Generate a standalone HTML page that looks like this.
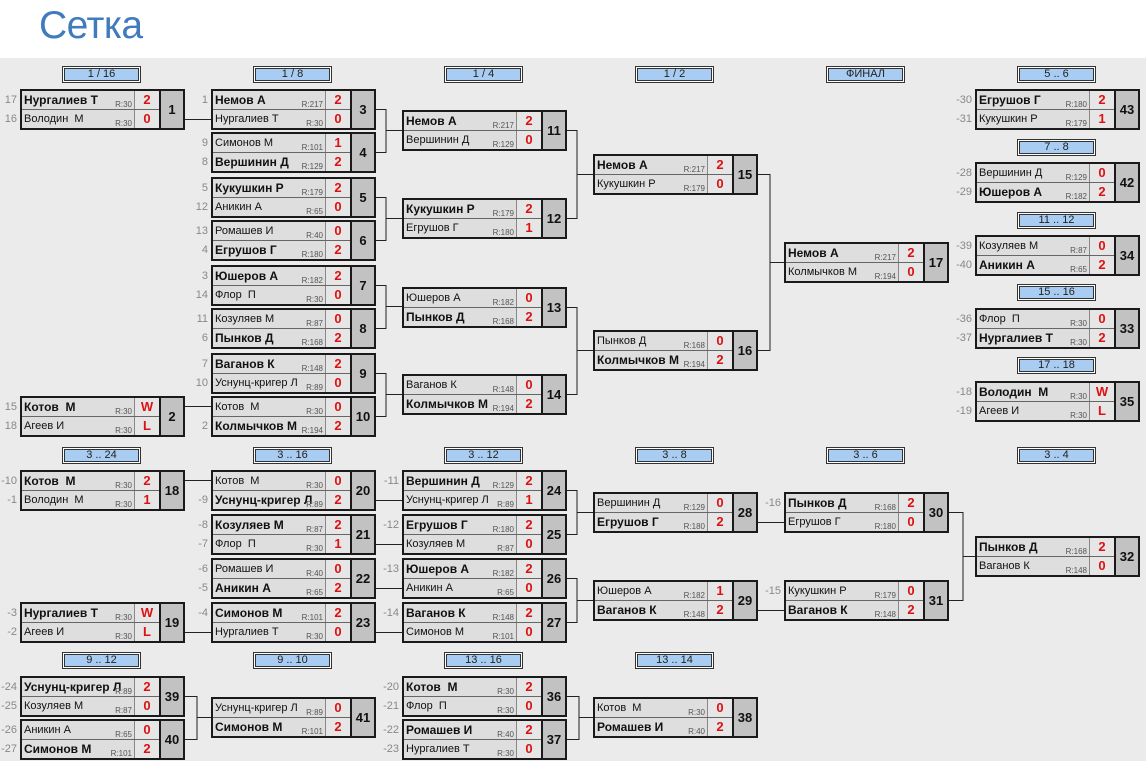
<!DOCTYPE html>
<html><head><meta charset="utf-8"><style>
body{margin:0;width:1146px;height:761px;overflow:hidden;background:#fff;font-family:"Liberation Sans",Tahoma,sans-serif;position:relative}
.bg{position:absolute;left:0;top:58px;width:1146px;height:703px;background:#ebebeb}
h1{position:absolute;left:39px;top:4px;margin:0;font-weight:normal;font-size:39px;color:#3f7bbd;font-family:"Liberation Sans",sans-serif;letter-spacing:-0.5px}
.h{position:absolute;width:77px;height:15px;border:1px solid #333;background:#a9cdf2;box-shadow:inset 0 0 0 1px #fff,inset 0 0 0 2px #333;font-size:11px;line-height:15px;text-align:center;color:#222}
.m{position:absolute;width:161px;height:37px;border:2px solid #1a1a1a;background:#c2c2c2}
.r{position:absolute;left:0;width:137px;height:18px}
.r1{top:0;border-bottom:1px solid #666}
.r2{top:19px}
.n{position:absolute;left:0;top:0;width:110px;height:18px;padding-left:2px;background:#dedede;font-size:11px;line-height:18px;white-space:pre;overflow:hidden;color:#111}
.b .n{font-weight:bold;font-size:12px}
.t{position:absolute;right:2px;bottom:0;font-size:8px;line-height:9px;color:#555;font-weight:normal;font-style:normal;background:transparent}
.s{position:absolute;left:112px;top:0;width:24px;height:18px;border-left:1px solid #888;background:#e6e6e6;color:#d11;font-weight:bold;font-size:13px;line-height:18px;text-align:center}
.u{position:absolute;left:137px;top:0;width:24px;height:37px;border-left:2px solid #1a1a1a;box-sizing:border-box;background:#c2c2c2;font-weight:bold;font-size:13px;line-height:37px;text-align:center;color:#111}
.sd{position:absolute;left:-24px;width:19px;text-align:right;font-size:11px;line-height:18px;color:#888}
svg{position:absolute;left:0;top:0}
</style></head><body>
<div class="bg"></div>
<h1>Сетка</h1>
<svg width="1146" height="761"><g stroke="#222" stroke-width="1" fill="none">
<path d="M185 119.5H211M185 406.5H211"/>
<path d="M376 109.5H386V152.5H376M386 130.5H402"/>
<path d="M376 197.5H386V240.5H376M386 218.5H402"/>
<path d="M376 285.5H386V328.5H376M386 306.5H402"/>
<path d="M376 373.5H386V416.5H376M386 394.5H402"/>
<path d="M567 130.5H577V218.5H567M577 174.5H593"/>
<path d="M567 307.5H577V394.5H567M577 350.5H593"/>
<path d="M758 174.5H770V350.5H758M770 262.5H784"/>
<path d="M185 480.5H211M185 632.5H211"/>
<path d="M376 500.5H402M376 544.5H402M376 588.5H402M376 632.5H402"/>
<path d="M567 490.5H577V534.5H567M577 512.5H593"/>
<path d="M567 578.5H577V622.5H567M577 600.5H593"/>
<path d="M758 522.5H784M758 610.5H784"/>
<path d="M949 512.5H963V600.5H949M963 556.5H975"/>
<path d="M185 696.5H197V739.5H185M197 717.5H211"/>
<path d="M567 696.5H579V739.5H567M579 717.5H593"/>
</g></svg>

<div class="h" style="left:62px;top:66px">1 / 16</div>
<div class="h" style="left:253px;top:66px">1 / 8</div>
<div class="h" style="left:444px;top:66px">1 / 4</div>
<div class="h" style="left:635px;top:66px">1 / 2</div>
<div class="h" style="left:826px;top:66px">ФИНАЛ</div>
<div class="h" style="left:1017px;top:66px">5 .. 6</div>
<div class="h" style="left:1017px;top:139px">7 .. 8</div>
<div class="h" style="left:1017px;top:212px">11 .. 12</div>
<div class="h" style="left:1017px;top:284px">15 .. 16</div>
<div class="h" style="left:1017px;top:357px">17 .. 18</div>
<div class="h" style="left:62px;top:447px">3 .. 24</div>
<div class="h" style="left:253px;top:447px">3 .. 16</div>
<div class="h" style="left:444px;top:447px">3 .. 12</div>
<div class="h" style="left:635px;top:447px">3 .. 8</div>
<div class="h" style="left:826px;top:447px">3 .. 6</div>
<div class="h" style="left:1017px;top:447px">3 .. 4</div>
<div class="h" style="left:62px;top:652px">9 .. 12</div>
<div class="h" style="left:253px;top:652px">9 .. 10</div>
<div class="h" style="left:444px;top:652px">13 .. 16</div>
<div class="h" style="left:635px;top:652px">13 .. 14</div>

<div class="m" style="left:20px;top:89px"><div class="r r1 b"><span class="sd">17</span><span class="n">Нургалиев Т<i class="t">R:30</i></span><span class="s">2</span></div><div class="r r2"><span class="sd">16</span><span class="n">Володин  М<i class="t">R:30</i></span><span class="s">0</span></div><div class="u">1</div></div>
<div class="m" style="left:20px;top:396px"><div class="r r1 b"><span class="sd">15</span><span class="n">Котов  М<i class="t">R:30</i></span><span class="s">W</span></div><div class="r r2"><span class="sd">18</span><span class="n">Агеев И<i class="t">R:30</i></span><span class="s">L</span></div><div class="u">2</div></div>

<div class="m" style="left:211px;top:89px"><div class="r r1 b"><span class="sd">1</span><span class="n">Немов А<i class="t">R:217</i></span><span class="s">2</span></div><div class="r r2"><span class="n">Нургалиев Т<i class="t">R:30</i></span><span class="s">0</span></div><div class="u">3</div></div>
<div class="m" style="left:211px;top:132px"><div class="r r1"><span class="sd">9</span><span class="n">Симонов М<i class="t">R:101</i></span><span class="s">1</span></div><div class="r r2 b"><span class="sd">8</span><span class="n">Вершинин Д<i class="t">R:129</i></span><span class="s">2</span></div><div class="u">4</div></div>
<div class="m" style="left:211px;top:177px"><div class="r r1 b"><span class="sd">5</span><span class="n">Кукушкин Р<i class="t">R:179</i></span><span class="s">2</span></div><div class="r r2"><span class="sd">12</span><span class="n">Аникин А<i class="t">R:65</i></span><span class="s">0</span></div><div class="u">5</div></div>
<div class="m" style="left:211px;top:220px"><div class="r r1"><span class="sd">13</span><span class="n">Ромашев И<i class="t">R:40</i></span><span class="s">0</span></div><div class="r r2 b"><span class="sd">4</span><span class="n">Егрушов Г<i class="t">R:180</i></span><span class="s">2</span></div><div class="u">6</div></div>
<div class="m" style="left:211px;top:265px"><div class="r r1 b"><span class="sd">3</span><span class="n">Юшеров А<i class="t">R:182</i></span><span class="s">2</span></div><div class="r r2"><span class="sd">14</span><span class="n">Флор  П<i class="t">R:30</i></span><span class="s">0</span></div><div class="u">7</div></div>
<div class="m" style="left:211px;top:308px"><div class="r r1"><span class="sd">11</span><span class="n">Козуляев М<i class="t">R:87</i></span><span class="s">0</span></div><div class="r r2 b"><span class="sd">6</span><span class="n">Пынков Д<i class="t">R:168</i></span><span class="s">2</span></div><div class="u">8</div></div>
<div class="m" style="left:211px;top:353px"><div class="r r1 b"><span class="sd">7</span><span class="n">Ваганов К<i class="t">R:148</i></span><span class="s">2</span></div><div class="r r2"><span class="sd">10</span><span class="n">Уснунц-кригер Л<i class="t">R:89</i></span><span class="s">0</span></div><div class="u">9</div></div>
<div class="m" style="left:211px;top:396px"><div class="r r1"><span class="n">Котов  М<i class="t">R:30</i></span><span class="s">0</span></div><div class="r r2 b"><span class="sd">2</span><span class="n">Колмычков М<i class="t">R:194</i></span><span class="s">2</span></div><div class="u">10</div></div>

<div class="m" style="left:402px;top:110px"><div class="r r1 b"><span class="n">Немов А<i class="t">R:217</i></span><span class="s">2</span></div><div class="r r2"><span class="n">Вершинин Д<i class="t">R:129</i></span><span class="s">0</span></div><div class="u">11</div></div>
<div class="m" style="left:402px;top:198px"><div class="r r1 b"><span class="n">Кукушкин Р<i class="t">R:179</i></span><span class="s">2</span></div><div class="r r2"><span class="n">Егрушов Г<i class="t">R:180</i></span><span class="s">1</span></div><div class="u">12</div></div>
<div class="m" style="left:402px;top:287px"><div class="r r1"><span class="n">Юшеров А<i class="t">R:182</i></span><span class="s">0</span></div><div class="r r2 b"><span class="n">Пынков Д<i class="t">R:168</i></span><span class="s">2</span></div><div class="u">13</div></div>
<div class="m" style="left:402px;top:374px"><div class="r r1"><span class="n">Ваганов К<i class="t">R:148</i></span><span class="s">0</span></div><div class="r r2 b"><span class="n">Колмычков М<i class="t">R:194</i></span><span class="s">2</span></div><div class="u">14</div></div>

<div class="m" style="left:593px;top:154px"><div class="r r1 b"><span class="n">Немов А<i class="t">R:217</i></span><span class="s">2</span></div><div class="r r2"><span class="n">Кукушкин Р<i class="t">R:179</i></span><span class="s">0</span></div><div class="u">15</div></div>
<div class="m" style="left:593px;top:330px"><div class="r r1"><span class="n">Пынков Д<i class="t">R:168</i></span><span class="s">0</span></div><div class="r r2 b"><span class="n">Колмычков М<i class="t">R:194</i></span><span class="s">2</span></div><div class="u">16</div></div>
<div class="m" style="left:784px;top:242px"><div class="r r1 b"><span class="n">Немов А<i class="t">R:217</i></span><span class="s">2</span></div><div class="r r2"><span class="n">Колмычков М<i class="t">R:194</i></span><span class="s">0</span></div><div class="u">17</div></div>

<div class="m" style="left:975px;top:89px"><div class="r r1 b"><span class="sd">-30</span><span class="n">Егрушов Г<i class="t">R:180</i></span><span class="s">2</span></div><div class="r r2"><span class="sd">-31</span><span class="n">Кукушкин Р<i class="t">R:179</i></span><span class="s">1</span></div><div class="u">43</div></div>
<div class="m" style="left:975px;top:162px"><div class="r r1"><span class="sd">-28</span><span class="n">Вершинин Д<i class="t">R:129</i></span><span class="s">0</span></div><div class="r r2 b"><span class="sd">-29</span><span class="n">Юшеров А<i class="t">R:182</i></span><span class="s">2</span></div><div class="u">42</div></div>
<div class="m" style="left:975px;top:235px"><div class="r r1"><span class="sd">-39</span><span class="n">Козуляев М<i class="t">R:87</i></span><span class="s">0</span></div><div class="r r2 b"><span class="sd">-40</span><span class="n">Аникин А<i class="t">R:65</i></span><span class="s">2</span></div><div class="u">34</div></div>
<div class="m" style="left:975px;top:308px"><div class="r r1"><span class="sd">-36</span><span class="n">Флор  П<i class="t">R:30</i></span><span class="s">0</span></div><div class="r r2 b"><span class="sd">-37</span><span class="n">Нургалиев Т<i class="t">R:30</i></span><span class="s">2</span></div><div class="u">33</div></div>
<div class="m" style="left:975px;top:381px"><div class="r r1 b"><span class="sd">-18</span><span class="n">Володин  М<i class="t">R:30</i></span><span class="s">W</span></div><div class="r r2"><span class="sd">-19</span><span class="n">Агеев И<i class="t">R:30</i></span><span class="s">L</span></div><div class="u">35</div></div>

<div class="m" style="left:20px;top:470px"><div class="r r1 b"><span class="sd">-10</span><span class="n">Котов  М<i class="t">R:30</i></span><span class="s">2</span></div><div class="r r2"><span class="sd">-1</span><span class="n">Володин  М<i class="t">R:30</i></span><span class="s">1</span></div><div class="u">18</div></div>
<div class="m" style="left:20px;top:602px"><div class="r r1 b"><span class="sd">-3</span><span class="n">Нургалиев Т<i class="t">R:30</i></span><span class="s">W</span></div><div class="r r2"><span class="sd">-2</span><span class="n">Агеев И<i class="t">R:30</i></span><span class="s">L</span></div><div class="u">19</div></div>

<div class="m" style="left:211px;top:470px"><div class="r r1"><span class="n">Котов  М<i class="t">R:30</i></span><span class="s">0</span></div><div class="r r2 b"><span class="sd">-9</span><span class="n">Уснунц-кригер Л<i class="t">R:89</i></span><span class="s">2</span></div><div class="u">20</div></div>
<div class="m" style="left:211px;top:514px"><div class="r r1 b"><span class="sd">-8</span><span class="n">Козуляев М<i class="t">R:87</i></span><span class="s">2</span></div><div class="r r2"><span class="sd">-7</span><span class="n">Флор  П<i class="t">R:30</i></span><span class="s">1</span></div><div class="u">21</div></div>
<div class="m" style="left:211px;top:558px"><div class="r r1"><span class="sd">-6</span><span class="n">Ромашев И<i class="t">R:40</i></span><span class="s">0</span></div><div class="r r2 b"><span class="sd">-5</span><span class="n">Аникин А<i class="t">R:65</i></span><span class="s">2</span></div><div class="u">22</div></div>
<div class="m" style="left:211px;top:602px"><div class="r r1 b"><span class="sd">-4</span><span class="n">Симонов М<i class="t">R:101</i></span><span class="s">2</span></div><div class="r r2"><span class="n">Нургалиев Т<i class="t">R:30</i></span><span class="s">0</span></div><div class="u">23</div></div>

<div class="m" style="left:402px;top:470px"><div class="r r1 b"><span class="sd">-11</span><span class="n">Вершинин Д<i class="t">R:129</i></span><span class="s">2</span></div><div class="r r2"><span class="n">Уснунц-кригер Л<i class="t">R:89</i></span><span class="s">1</span></div><div class="u">24</div></div>
<div class="m" style="left:402px;top:514px"><div class="r r1 b"><span class="sd">-12</span><span class="n">Егрушов Г<i class="t">R:180</i></span><span class="s">2</span></div><div class="r r2"><span class="n">Козуляев М<i class="t">R:87</i></span><span class="s">0</span></div><div class="u">25</div></div>
<div class="m" style="left:402px;top:558px"><div class="r r1 b"><span class="sd">-13</span><span class="n">Юшеров А<i class="t">R:182</i></span><span class="s">2</span></div><div class="r r2"><span class="n">Аникин А<i class="t">R:65</i></span><span class="s">0</span></div><div class="u">26</div></div>
<div class="m" style="left:402px;top:602px"><div class="r r1 b"><span class="sd">-14</span><span class="n">Ваганов К<i class="t">R:148</i></span><span class="s">2</span></div><div class="r r2"><span class="n">Симонов М<i class="t">R:101</i></span><span class="s">0</span></div><div class="u">27</div></div>

<div class="m" style="left:593px;top:492px"><div class="r r1"><span class="n">Вершинин Д<i class="t">R:129</i></span><span class="s">0</span></div><div class="r r2 b"><span class="n">Егрушов Г<i class="t">R:180</i></span><span class="s">2</span></div><div class="u">28</div></div>
<div class="m" style="left:593px;top:580px"><div class="r r1"><span class="n">Юшеров А<i class="t">R:182</i></span><span class="s">1</span></div><div class="r r2 b"><span class="n">Ваганов К<i class="t">R:148</i></span><span class="s">2</span></div><div class="u">29</div></div>
<div class="m" style="left:784px;top:492px"><div class="r r1 b"><span class="sd">-16</span><span class="n">Пынков Д<i class="t">R:168</i></span><span class="s">2</span></div><div class="r r2"><span class="n">Егрушов Г<i class="t">R:180</i></span><span class="s">0</span></div><div class="u">30</div></div>
<div class="m" style="left:784px;top:580px"><div class="r r1"><span class="sd">-15</span><span class="n">Кукушкин Р<i class="t">R:179</i></span><span class="s">0</span></div><div class="r r2 b"><span class="n">Ваганов К<i class="t">R:148</i></span><span class="s">2</span></div><div class="u">31</div></div>
<div class="m" style="left:975px;top:536px"><div class="r r1 b"><span class="n">Пынков Д<i class="t">R:168</i></span><span class="s">2</span></div><div class="r r2"><span class="n">Ваганов К<i class="t">R:148</i></span><span class="s">0</span></div><div class="u">32</div></div>

<div class="m" style="left:20px;top:676px"><div class="r r1 b"><span class="sd">-24</span><span class="n">Уснунц-кригер Л<i class="t">R:89</i></span><span class="s">2</span></div><div class="r r2"><span class="sd">-25</span><span class="n">Козуляев М<i class="t">R:87</i></span><span class="s">0</span></div><div class="u">39</div></div>
<div class="m" style="left:20px;top:719px"><div class="r r1"><span class="sd">-26</span><span class="n">Аникин А<i class="t">R:65</i></span><span class="s">0</span></div><div class="r r2 b"><span class="sd">-27</span><span class="n">Симонов М<i class="t">R:101</i></span><span class="s">2</span></div><div class="u">40</div></div>
<div class="m" style="left:211px;top:697px"><div class="r r1"><span class="n">Уснунц-кригер Л<i class="t">R:89</i></span><span class="s">0</span></div><div class="r r2 b"><span class="n">Симонов М<i class="t">R:101</i></span><span class="s">2</span></div><div class="u">41</div></div>
<div class="m" style="left:402px;top:676px"><div class="r r1 b"><span class="sd">-20</span><span class="n">Котов  М<i class="t">R:30</i></span><span class="s">2</span></div><div class="r r2"><span class="sd">-21</span><span class="n">Флор  П<i class="t">R:30</i></span><span class="s">0</span></div><div class="u">36</div></div>
<div class="m" style="left:402px;top:719px"><div class="r r1 b"><span class="sd">-22</span><span class="n">Ромашев И<i class="t">R:40</i></span><span class="s">2</span></div><div class="r r2"><span class="sd">-23</span><span class="n">Нургалиев Т<i class="t">R:30</i></span><span class="s">0</span></div><div class="u">37</div></div>
<div class="m" style="left:593px;top:697px"><div class="r r1"><span class="n">Котов  М<i class="t">R:30</i></span><span class="s">0</span></div><div class="r r2 b"><span class="n">Ромашев И<i class="t">R:40</i></span><span class="s">2</span></div><div class="u">38</div></div>
</body></html>
